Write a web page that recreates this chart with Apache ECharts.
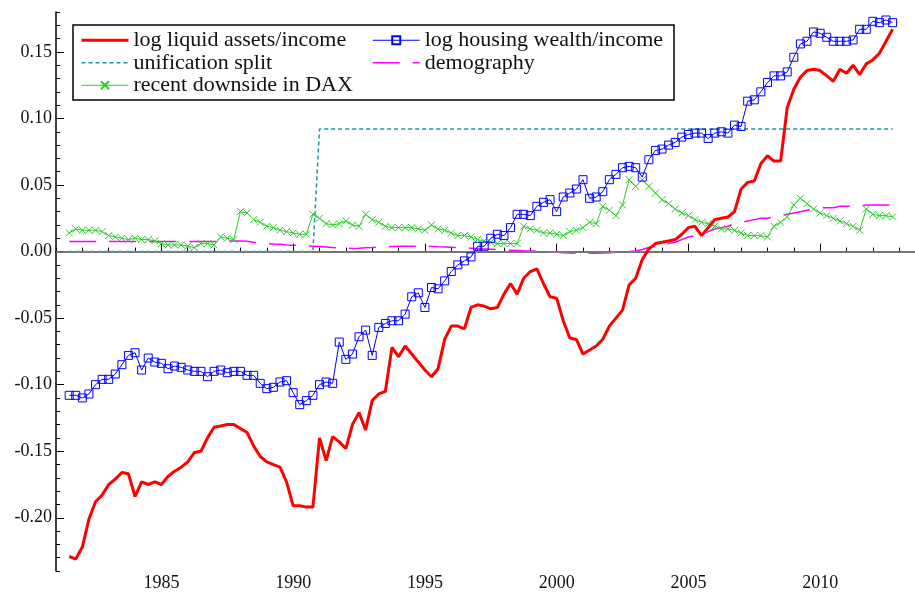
<!DOCTYPE html>
<html>
<head>
<meta charset="utf-8">
<script src="https://cdn.jsdelivr.net/npm/echarts@6/dist/echarts.min.js"></script>
<style>
  html, body { margin: 0; padding: 0; background: #fff; }
  #chart { width: 915px; height: 592px; }
</style>
</head>
<body>
<div id="chart"></div>
<script>
// quarterly observations, 1981Q3 .. 2012Q4
const startYear = 1981.5
const quarterCount = 126

const liquidAssets = [
  -0.229, -0.231, -0.222, -0.201, -0.188, -0.183, -0.175, -0.171, -0.166, -0.167,
  -0.184, -0.173, -0.175, -0.173, -0.175, -0.169, -0.165, -0.162, -0.158, -0.151,
  -0.150, -0.140, -0.132, -0.131, -0.130, -0.130, -0.133, -0.136, -0.146, -0.154,
  -0.158, -0.160, -0.162, -0.173, -0.191, -0.191, -0.192, -0.192, -0.140, -0.157,
  -0.139, -0.143, -0.148, -0.130, -0.121, -0.134, -0.112, -0.107, -0.105, -0.072,
  -0.079, -0.071, -0.077, -0.083, -0.089, -0.094, -0.088, -0.066, -0.056, -0.056,
  -0.058, -0.042, -0.040, -0.041, -0.043, -0.042, -0.032, -0.024, -0.032, -0.020,
  -0.015, -0.013, -0.024, -0.034, -0.035, -0.052, -0.065, -0.066, -0.077, -0.074,
  -0.071, -0.066, -0.056, -0.050, -0.044, -0.025, -0.020, -0.006, 0.002, 0.006,
  0.007, 0.008, 0.009, 0.013, 0.018, 0.019, 0.012, 0.018, 0.024, 0.025,
  0.026, 0.030, 0.047, 0.052, 0.053, 0.066, 0.072, 0.068, 0.068, 0.108,
  0.122, 0.131, 0.136, 0.137, 0.136, 0.132, 0.128, 0.137, 0.134, 0.140,
  0.133, 0.141, 0.144, 0.149, 0.158, 0.167
]

const housingWealth = [
  -0.108, -0.108, -0.110, -0.107, -0.100, -0.096, -0.096, -0.092, -0.085, -0.078,
  -0.076, -0.089, -0.080, -0.083, -0.084, -0.088, -0.086, -0.087, -0.089, -0.090,
  -0.090, -0.094, -0.090, -0.089, -0.091, -0.090, -0.090, -0.093, -0.093, -0.099,
  -0.103, -0.102, -0.098, -0.097, -0.106, -0.115, -0.112, -0.108, -0.100, -0.098,
  -0.099, -0.068, -0.081, -0.077, -0.064, -0.059, -0.078, -0.057, -0.054, -0.052,
  -0.052, -0.047, -0.034, -0.031, -0.042, -0.027, -0.028, -0.022, -0.015, -0.010,
  -0.007, -0.004, 0.004, 0.004, 0.010, 0.013, 0.012, 0.018, 0.028, 0.028,
  0.027, 0.034, 0.037, 0.039, 0.030, 0.041, 0.044, 0.047, 0.054, 0.040,
  0.041, 0.045, 0.054, 0.058, 0.063, 0.064, 0.063, 0.056, 0.069, 0.076,
  0.077, 0.080, 0.082, 0.086, 0.088, 0.089, 0.089, 0.085, 0.089, 0.090,
  0.089, 0.095, 0.094, 0.113, 0.114, 0.120, 0.127, 0.132, 0.132, 0.135,
  0.146, 0.156, 0.158, 0.165, 0.164, 0.161, 0.158, 0.158, 0.158, 0.159,
  0.167, 0.167, 0.173, 0.172, 0.174, 0.172
]

const daxDownside = [
  0.014, 0.017, 0.016, 0.016, 0.016, 0.015, 0.012, 0.011, 0.010, 0.009,
  0.010, 0.009, 0.009, 0.008, 0.006, 0.005, 0.005, 0.005, 0.004, 0.003,
  0.006, 0.006, 0.005, 0.011, 0.010, 0.009, 0.030, 0.029, 0.024, 0.022,
  0.019, 0.018, 0.016, 0.015, 0.014, 0.013, 0.013, 0.028, 0.025, 0.021,
  0.020, 0.021, 0.023, 0.020, 0.019, 0.028, 0.024, 0.022, 0.019, 0.018,
  0.018, 0.018, 0.018, 0.017, 0.016, 0.020, 0.017, 0.016, 0.014, 0.012,
  0.012, 0.011, 0.009, 0.008, 0.007, 0.006, 0.006, 0.006, 0.006, 0.019,
  0.017, 0.016, 0.014, 0.014, 0.013, 0.012, 0.015, 0.016, 0.018, 0.022,
  0.021, 0.034, 0.031, 0.027, 0.035, 0.054, 0.049, 0.054, 0.049, 0.044,
  0.039, 0.036, 0.032, 0.029, 0.027, 0.024, 0.022, 0.021, 0.019, 0.017,
  0.017, 0.016, 0.014, 0.012, 0.012, 0.012, 0.011, 0.019, 0.022, 0.026,
  0.035, 0.040, 0.036, 0.032, 0.029, 0.027, 0.025, 0.023, 0.021, 0.019,
  0.016, 0.032, 0.028, 0.027, 0.027, 0.026
]

const demography = [
  0.0075, 0.0075, 0.0075, 0.0075, 0.0075, 0.0075, 0.0075, 0.0075, 0.0075, 0.0075,
  0.0075, 0.0075, 0.0075, 0.0075, 0.0075, 0.0075, 0.0075, 0.0075, 0.0075, 0.0075,
  0.0075, 0.0075, 0.0075, 0.0075, 0.0078, 0.0080, 0.0080, 0.0078, 0.0070, 0.0065,
  0.0060, 0.0057, 0.0055, 0.0050, 0.0048, 0.0045, 0.0042, 0.0040, 0.0038, 0.0035,
  0.0030, 0.0027, 0.0025, 0.0024, 0.0025, 0.0028, 0.0030, 0.0033, 0.0036, 0.0038,
  0.0040, 0.0040, 0.0040, 0.0040, 0.0040, 0.0038, 0.0036, 0.0035, 0.0033, 0.0030,
  0.0028, 0.0025, 0.0022, 0.0020, 0.0018, 0.0015, 0.0012, 0.0010, 0.0008, 0.0006,
  0.0005, 0.0003, 0.0000, -0.0003, -0.0006, -0.0009, -0.0011, -0.0013, -0.0013, -0.0013,
  -0.0012, -0.0010, -0.0008, -0.0005, -0.0002, 0.0000, 0.0005, 0.0015, 0.0030, 0.0040,
  0.0050, 0.0060, 0.0070, 0.0090, 0.0110, 0.0120, 0.0130, 0.0150, 0.0170, 0.0180,
  0.0190, 0.0210, 0.0220, 0.0230, 0.0240, 0.0250, 0.0250, 0.0260, 0.0270, 0.0280,
  0.0290, 0.0300, 0.0310, 0.0320, 0.0330, 0.0330, 0.0330, 0.0340, 0.0340, 0.0340,
  0.0340, 0.0350, 0.0350, 0.0350, 0.0350, 0.0350
]

// step dummy: [year, value] break points
const unificationSplit = [[1981.5, 0], [1990.75, 0], [1991.0, 0.092], [2012.75, 0.092]]

const yearLabels = [1985, 1990, 1995, 2000, 2005, 2010]
const valueLabels = [-0.2, -0.15, -0.1, -0.05, 0, 0.05, 0.1, 0.15]

const quarters = []
for (let i = 0; i < quarterCount; i++) quarters.push(startYear + i * 0.25)

const pair = (arr) => arr.map((v, i) => [quarters[i], v])

const serif = '"Liberation Serif", "DejaVu Serif", serif'
const names = [
  'log liquid assets/income',
  'log housing wealth/income',
  'unification split',
  'demography',
  'recent downside in DAX',
]

const chart = echarts.init(document.getElementById('chart'), null, { renderer: 'canvas' })

const xRange = { min: 1981, max: 2013.6 }
const yRange = { min: -0.24, max: 0.18 }

// legend entries: plain lines get no marker, line width as in the plot
const entry = (name, width, marker) => ({
  name,
  lineStyle: { width },
  itemStyle: marker ? {} : { opacity: 0 },
})
const legendBase = {
  orient: 'vertical', top: 29, padding: 0, itemWidth: 47, itemHeight: 10, itemGap: 0,
  textStyle: { fontFamily: serif, fontSize: 22, lineHeight: 22.5, color: '#111' },
  selectedMode: false,
}

chart.setOption({
  animation: false,
  backgroundColor: '#fff',
  grid: { left: 56, right: 0, top: 12, bottom: 20 },
  xAxis: [
    {
      type: 'value', ...xRange, interval: 1,
      axisLine: { lineStyle: { color: '#000', width: 1.5 } },
      axisTick: { inside: true, length: 4, lineStyle: { color: '#000', width: 1 } },
      axisLabel: { show: false },
      splitLine: { show: false },
    },
    {
      type: 'value', ...xRange, position: 'bottom',
      axisLine: { show: false },
      axisTick: { inside: true, length: 8, customValues: yearLabels, lineStyle: { color: '#000', width: 1 } },
      axisLabel: {
        customValues: yearLabels, color: '#111', fontFamily: serif, fontSize: 18, margin: 3,
        formatter: (v) => String(v),
      },
      splitLine: { show: false },
    },
  ],
  yAxis: [
    {
      type: 'value', ...yRange, interval: 0.01,
      axisLine: { show: true, lineStyle: { color: '#000', width: 1.5 } },
      axisTick: { show: true, inside: true, length: 4, lineStyle: { color: '#000', width: 1 } },
      axisLabel: { show: false },
      splitLine: { show: false },
    },
    {
      type: 'value', ...yRange, position: 'left',
      axisLine: { show: false },
      axisTick: { show: true, inside: true, length: 8, customValues: valueLabels, lineStyle: { color: '#000', width: 1 } },
      axisLabel: {
        customValues: valueLabels, color: '#111', fontFamily: serif, fontSize: 18, margin: 4,
        formatter: (v) => v.toFixed(2),
      },
      splitLine: { show: false },
    },
  ],
  graphic: [
    {
      type: 'rect', z: 0,
      shape: { x: 73, y: 25, width: 601, height: 75 },
      style: { fill: '#fff', stroke: '#000', lineWidth: 1.5 },
    },
  ],
  legend: [
    {
      ...legendBase, left: 80,
      data: [entry(names[0], 3, false), entry(names[2], 1.5, false), entry(names[4], 1, true)],
    },
    {
      ...legendBase, left: 372,
      data: [entry(names[1], 1, true), entry(names[3], 1.5, false)],
    },
  ],
  series: [
    {
      name: names[2], type: 'line', data: unificationSplit, symbol: 'none', z: 2,
      lineStyle: { color: '#179a9a', width: 1.5, type: [4, 3] },
      itemStyle: { color: '#179a9a' },
      markLine: {
        silent: true, symbol: 'none', label: { show: false },
        lineStyle: { color: '#8a8a8a', width: 1.5, type: 'solid' },
        data: [{ yAxis: 0 }],
      },
    },
    {
      name: names[3], type: 'line', data: pair(demography), symbol: 'none', z: 3,
      lineStyle: { color: '#ff00ff', width: 1.5, type: [27, 13] },
      itemStyle: { color: '#ff00ff' },
    },
    {
      name: names[4], type: 'line', data: pair(daxDownside), z: 4,
      symbol: 'path://M0,0L10,10M10,0L0,10', symbolSize: 7,
      lineStyle: { color: '#2ecc2e', width: 1 },
      itemStyle: { color: 'transparent', borderColor: '#2ecc2e', borderWidth: 1 },
    },
    {
      name: names[1], type: 'line', data: pair(housingWealth), z: 5,
      symbol: 'rect', symbolSize: 8,
      lineStyle: { color: '#0000ff', width: 1 },
      itemStyle: { color: 'transparent', borderColor: '#0000ff', borderWidth: 1 },
    },
    {
      name: names[0], type: 'line', data: pair(liquidAssets), symbol: 'none', z: 6,
      lineStyle: { color: '#ff0000', width: 3 },
      itemStyle: { color: '#ff0000' },
    },
  ],
})
</script>
</body>
</html>
